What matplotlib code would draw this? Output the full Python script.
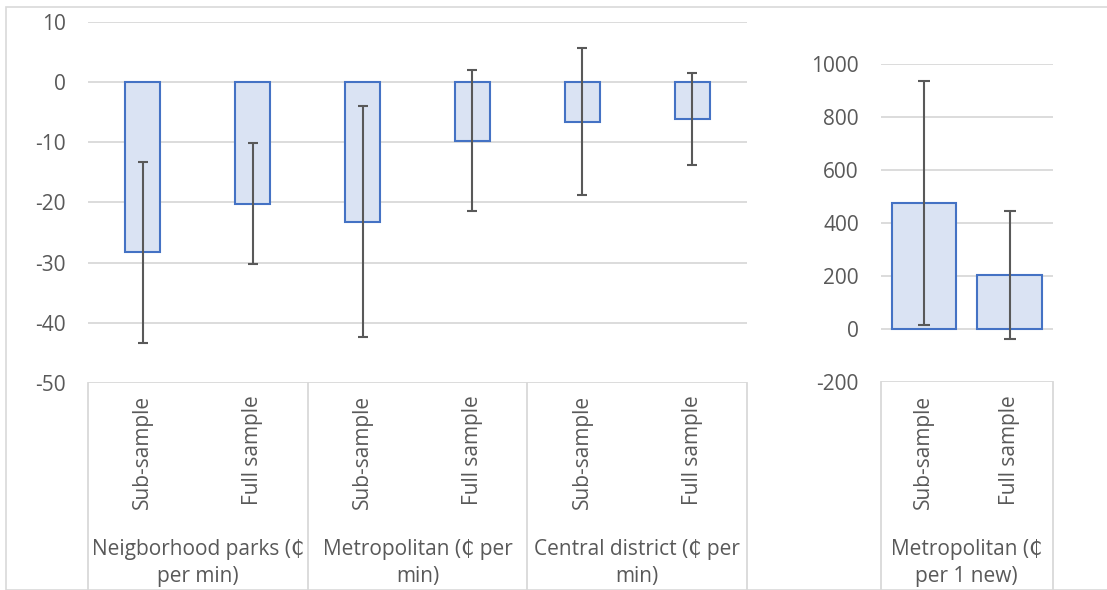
import matplotlib
matplotlib.use("Agg")
import matplotlib.pyplot as plt
from matplotlib.patches import Rectangle
from matplotlib.lines import Line2D
import matplotlib.transforms as mtransforms

# ---- data ----
sub_labels = ["Sub-sample", "Full sample", "Sub-sample", "Full sample", "Sub-sample", "Full sample"]
group_labels = ["Neigborhood parks (\u20b5\nper min)", "Metropolitan (\u20b5 per\nmin)", "Central district (\u20b5 per\nmin)"]
left_values = [-28.3, -20.2, -23.2, -9.7, -6.6, -6.05]
left_errors = [15.0, 10.1, 19.2, 11.7, 12.2, 7.65]
left_ticks = [-50, -40, -30, -20, -10, 0, 10]

right_sub_labels = ["Sub-sample", "Full sample"]
right_group_label = "Metropolitan (\u20b5\nper 1 new)"
right_values = [475, 203]
right_errors = [459, 242]
right_ticks = [-200, 0, 200, 400, 600, 800, 1000]

# ---- style ----
W, H = 1107, 590
FONT = ["Open Sans", "DejaVu Sans"]
plt.rcParams["font.family"] = FONT
TXT = "#595959"
GRID = "#D9D9D9"
FILL = "#DAE3F3"
EDGE = "#4472C4"
ERR = "#595959"
FS = 15

fig = plt.figure(figsize=(W / 100, H / 100), dpi=100)
fig.patch.set_facecolor("white")
fig.add_artist(Rectangle((6 / W, 0), 1.2, 1 - 7 / H, transform=fig.transFigure,
                         fill=False, edgecolor=GRID, linewidth=1.2))


def fx(px):
    return px / W


def fy(py):
    return 1 - py / H


def make_panel(left_px, right_px, top_px, bottom_px, ylim, ticks, values, errors,
               subs, groups, group_bounds, bar_width, capsize):
    ax = fig.add_axes([fx(left_px), fy(bottom_px), fx(right_px - left_px),
                       (bottom_px - top_px) / H])
    n = len(values)
    x = list(range(n))
    ax.set_xlim(-0.5, n - 0.5)
    ax.set_ylim(*ylim)
    for s in ax.spines.values():
        s.set_visible(False)
    ax.set_yticks(ticks)
    ax.set_yticklabels([str(t) for t in ticks])
    ax.tick_params(axis="y", length=0, pad=16, labelsize=FS, labelcolor=TXT)
    ax.set_xticks([])
    for t in ticks:
        ax.axhline(t, color=GRID, linewidth=1.3, zorder=0)
    ax.bar(x, values, width=bar_width, color=FILL, edgecolor=EDGE, linewidth=1.5, zorder=2)
    ax.errorbar(x, values, yerr=errors, fmt="none", ecolor=ERR, elinewidth=1.5,
                capsize=capsize, capthick=1.5, zorder=3)
    # category box
    trans = mtransforms.blended_transform_factory(ax.transData, fig.transFigure)
    for b in group_bounds:
        ax.add_line(Line2D([b, b], [fy(bottom_px), -0.05], transform=trans,
                           color=GRID, linewidth=1.3, clip_on=False))
    for i, lab in enumerate(subs):
        ax.text(i, fy(395), lab, transform=trans, rotation=90, ha="center", va="top",
                fontsize=FS, color=TXT)
    per = n // len(groups)
    for g, lab in enumerate(groups):
        cx = g * per + (per - 1) / 2
        ax.text(cx, fy(563), lab, transform=trans, ha="center", va="center",
                fontsize=FS, color=TXT, linespacing=1.4)
    return ax


make_panel(88, 747, 22, 383, (-50, 10), left_ticks, left_values, left_errors,
           sub_labels, group_labels, [-0.5, 1.5, 3.5, 5.5], 0.32, 3.5)
make_panel(881, 1052.5, 64, 382, (-200, 1000), right_ticks, right_values, right_errors,
           right_sub_labels, [right_group_label], [-0.5, 1.5], 0.75, 4)

fig.savefig("out.png", dpi=100, facecolor="white")
